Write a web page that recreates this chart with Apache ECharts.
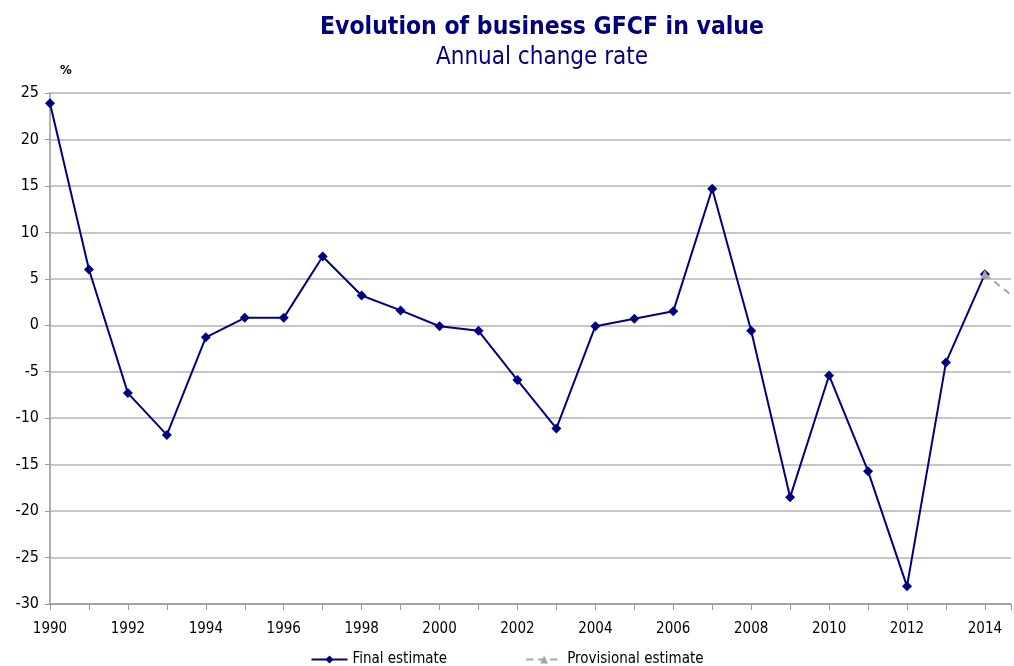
<!DOCTYPE html>
<html>
<head>
<meta charset="utf-8">
<script src="https://cdn.jsdelivr.net/npm/echarts@6/dist/echarts.min.js"></script>
<style>
  html, body { margin: 0; padding: 0; background: #fff; }
  #chart { width: 1014px; height: 666px; }
</style>
</head>
<body>
<div id="chart"></div>
<script>
// annual change rate of business GFCF, in %
var years = [1990, 1991, 1992, 1993, 1994, 1995, 1996, 1997, 1998, 1999, 2000, 2001,
             2002, 2003, 2004, 2005, 2006, 2007, 2008, 2009, 2010, 2011, 2012, 2013, 2014];
var finalValues = [23.9, 6.0, -7.3, -11.8, -1.3, 0.8, 0.8, 7.4, 3.2, 1.6, -0.1, -0.6,
                   -5.9, -11.1, -0.1, 0.7, 1.5, 14.7, -0.6, -18.5, -5.4, -15.7, -28.1, -4.0, 5.5];
var provisionalYears = [2014, 2015];
var provisionalValues = [5.5, 2.2];
var yTicks = [-30, -25, -20, -15, -10, -5, 0, 5, 10, 15, 20, 25];

var navy = '#000080';
var grey = '#a6a6a6';
var font = '"DejaVu Sans Condensed", "DejaVu Sans", sans-serif';

function pairs(xs, ys) {
  return xs.map(function (x, i) { return [x, ys[i]]; });
}

var chart = echarts.init(document.getElementById('chart'));
chart.setOption({
  animation: false,
  graphic: [
    {
      type: 'text', x: 542, y: 28,
      style: {
        text: 'Evolution of business GFCF in value', fill: navy,
        font: 'bold 24.5px ' + font, textAlign: 'center', textVerticalAlign: 'middle'
      }
    },
    {
      type: 'text', x: 542, y: 58,
      style: {
        text: 'Annual change rate', fill: navy,
        font: '24px ' + font, textAlign: 'center', textVerticalAlign: 'middle'
      }
    },
    {
      type: 'text', x: 60, y: 64,
      style: { text: '%', font: 'bold 13px ' + font, fill: '#000' }
    }
  ],
  legend: {
    top: 647,
    left: 'center',
    itemWidth: 36,
    itemHeight: 10,
    itemGap: 78,
    textStyle: { fontFamily: font, fontSize: 15, color: '#000' },
    data: ['Final estimate', 'Provisional estimate']
  },
  grid: { left: 50, right: 0, top: 93, bottom: 62 },
  xAxis: {
    type: 'value',
    min: 1990,
    max: 2014.67,
    interval: 1,
    splitLine: { show: false },
    axisLine: { onZero: false, lineStyle: { color: '#999', width: 1.5 } },
    axisTick: { show: true, length: 6, lineStyle: { color: '#999' } },
    axisLabel: {
      fontFamily: font, fontSize: 15, color: '#000', margin: 18,
      formatter: function (v) {
        return (Math.round(v) === v && v % 2 === 0) ? String(v) : '';
      }
    }
  },
  yAxis: {
    type: 'value',
    min: yTicks[0],
    max: yTicks[yTicks.length - 1],
    interval: 5,
    axisLine: { show: true, lineStyle: { color: '#999', width: 1.5 } },
    axisTick: { show: true, length: 5, lineStyle: { color: '#999' } },
    splitLine: { lineStyle: { color: '#b3b3b3', width: 1.5 } },
    axisLabel: { fontFamily: font, fontSize: 16, color: '#000', margin: 11 }
  },
  series: [
    {
      name: 'Final estimate',
      type: 'line',
      data: pairs(years, finalValues),
      symbol: 'diamond',
      symbolSize: 10,
      itemStyle: { color: navy },
      lineStyle: { color: navy, width: 2 },
      z: 2
    },
    {
      name: 'Provisional estimate',
      type: 'line',
      data: pairs(provisionalYears, provisionalValues),
      symbol: 'triangle',
      symbolSize: 9,
      itemStyle: { color: grey },
      lineStyle: { color: grey, width: 2, type: [7, 5] },
      clip: true,
      z: 3
    }
  ]
});
</script>
</body>
</html>
